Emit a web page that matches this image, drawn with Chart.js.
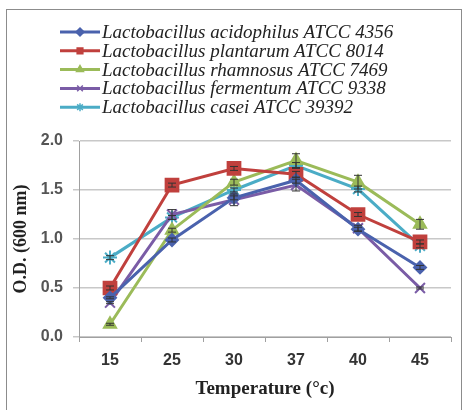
<!DOCTYPE html>
<html>
<head>
<meta charset="utf-8">
<script src="https://cdn.jsdelivr.net/npm/chart.js@4.4.1/dist/chart.umd.min.js"></script>
<style>
  html, body { margin: 0; padding: 0; background: #fff; }
  #wrap { position: relative; width: 462px; height: 410px; overflow: hidden; }
  #frame { position: absolute; left: 6px; top: 9px; width: 456px; height: 410px; border: 1.5px solid #8c8c8c; border-bottom: none; box-sizing: border-box; pointer-events: none; }
  canvas { position: absolute; left: 0; top: 0; }
</style>
</head>
<body>
<div id="wrap">
  <canvas id="chart" width="462" height="410"></canvas>
  <div id="frame"></div>
</div>
<script>
const temperatures = ['15', '25', '30', '37', '40', '45'];
const yTicks = [0, 0.5, 1.0, 1.5, 2.0];

const acidophilus = [0.40, 0.99, 1.42, 1.60, 1.10, 0.71];
const plantarum   = [0.50, 1.55, 1.72, 1.66, 1.25, 0.97];
const rhamnosus   = [0.13, 1.09, 1.58, 1.80, 1.58, 1.15];
const fermentum   = [0.35, 1.25, 1.40, 1.55, 1.11, 0.50];
const casei       = [0.81, 1.22, 1.50, 1.75, 1.51, 0.93];

const acidophilusErr = [0.01, 0.02, 0.02, 0.03, 0.02, 0.02];
const plantarumErr   = [0.02, 0.02, 0.02, 0.03, 0.02, 0.02];
const rhamnosusErr   = [0.01, 0.02, 0.03, 0.07, 0.07, 0.05];
const fermentumErr   = [0.01, 0.05, 0.06, 0.06, 0.03, 0.01];
const caseiErr       = [0.02, 0.02, 0.02, 0.03, 0.03, 0.02];

const series = [
  { label: 'Lactobacillus acidophilus ATCC 4356', data: acidophilus, err: acidophilusErr, color: '#4a62ad', style: 'rectRot', r: 6 },
  { label: 'Lactobacillus plantarum ATCC 8014', data: plantarum, err: plantarumErr, color: '#c0403d', style: 'rect', r: 9 },
  { label: 'Lactobacillus rhamnosus ATCC 7469', data: rhamnosus, err: rhamnosusErr, color: '#9bbb59', style: 'triangle', r: 7 },
  { label: 'Lactobacillus fermentum ATCC 9338', data: fermentum, err: fermentumErr, color: '#7a5ca6', style: 'crossRot', r: 7 },
  { label: 'Lactobacillus casei ATCC 39392', data: casei, err: caseiErr, color: '#4bacc6', style: 'star', r: 7 }
];

// error bars, drawn from the err arrays through the y scale
const errorBars = {
  id: 'errorBars',
  afterDatasetsDraw(chart) {
    const ctx = chart.ctx;
    const y = chart.scales.y;
    ctx.save();
    ctx.strokeStyle = '#333';
    ctx.lineWidth = 1;
    chart.data.datasets.forEach((ds, i) => {
      const meta = chart.getDatasetMeta(i);
      meta.data.forEach((pt, j) => {
        const hi = y.getPixelForValue(ds.data[j] + ds.err[j]);
        const lo = y.getPixelForValue(ds.data[j] - ds.err[j]);
        ctx.beginPath();
        ctx.moveTo(pt.x, hi); ctx.lineTo(pt.x, lo);
        ctx.moveTo(pt.x - 4, hi); ctx.lineTo(pt.x + 4, hi);
        ctx.moveTo(pt.x - 4, lo); ctx.lineTo(pt.x + 4, lo);
        ctx.stroke();
      });
    });
    ctx.restore();
  }
};

// legend with a line sample through the marker, like the original
const lineLegend = {
  id: 'lineLegend',
  afterDraw(chart) {
    const ctx = chart.ctx;
    ctx.save();
    ctx.font = 'italic 19px "Liberation Serif", "DejaVu Serif", serif';
    ctx.textBaseline = 'middle';
    chart.data.datasets.forEach((ds, i) => {
      const yy = 32 + i * 18.8;
      ctx.strokeStyle = ds.borderColor;
      ctx.lineWidth = 3;
      ctx.beginPath();
      ctx.moveTo(60, yy); ctx.lineTo(100, yy);
      ctx.stroke();
      ctx.fillStyle = ds.borderColor;
      ctx.lineWidth = 1.5;
      Chart.helpers.drawPoint(ctx, { pointStyle: ds.pointStyle, radius: 4, rotation: 0, borderWidth: 1.5 }, 80, yy);
      ctx.fillStyle = '#222';
      ctx.fillText(ds.label, 102, yy + 1);
    });
    ctx.restore();
  }
};

new Chart(document.getElementById('chart'), {
  type: 'line',
  data: {
    labels: temperatures,
    datasets: series.map(s => ({
      label: s.label,
      data: s.data,
      err: s.err,
      borderColor: s.color,
      backgroundColor: s.color,
      pointBackgroundColor: s.color,
      pointBorderColor: s.color,
      pointStyle: s.style,
      pointRadius: s.r,
      pointBorderWidth: 2,
      borderWidth: 3,
      tension: 0
    }))
  },
  options: {
    responsive: false,
    animation: false,
    devicePixelRatio: 1,
    layout: { padding: { top: 141, right: 2, left: 0, bottom: 0 } },
    plugins: { legend: { display: false }, tooltip: { enabled: false } },
    scales: {
      x: {
        offset: true,
        grid: { offset: true, drawOnChartArea: false, color: '#a0a0a0', tickLength: 5 },
        border: { color: '#a0a0a0' },
        ticks: { color: '#333', font: { family: 'Liberation Sans, Arial', size: 16, weight: 'bold' }, padding: 9 },
        title: { display: true, text: 'Temperature (°c)', color: '#222', font: { family: '"Liberation Serif", serif', size: 19, weight: 'bold' }, padding: { top: 4, bottom: 10 } },
        afterFit(scale) { scale.height = 73; }
      },
      y: {
        min: 0, max: 2,
        afterBuildTicks(scale) { scale.ticks = yTicks.map(v => ({ value: v })); },
        grid: { color: '#c8c8c8', lineWidth: 1.5, tickLength: 6 },
        border: { color: '#a0a0a0' },
        ticks: { color: '#555', font: { family: 'Liberation Sans, Arial', size: 16, weight: 'bold' }, padding: 10, callback: v => v.toFixed(1) },
        title: { display: true, text: 'O.D. (600 nm)', color: '#222', font: { family: '"Liberation Serif", serif', size: 18, weight: 'bold' }, padding: { top: 11, bottom: 4 } },
        afterFit(scale) { scale.width = 79; }
      }
    }
  },
  plugins: [errorBars, lineLegend]
});
</script>
</body>
</html>
